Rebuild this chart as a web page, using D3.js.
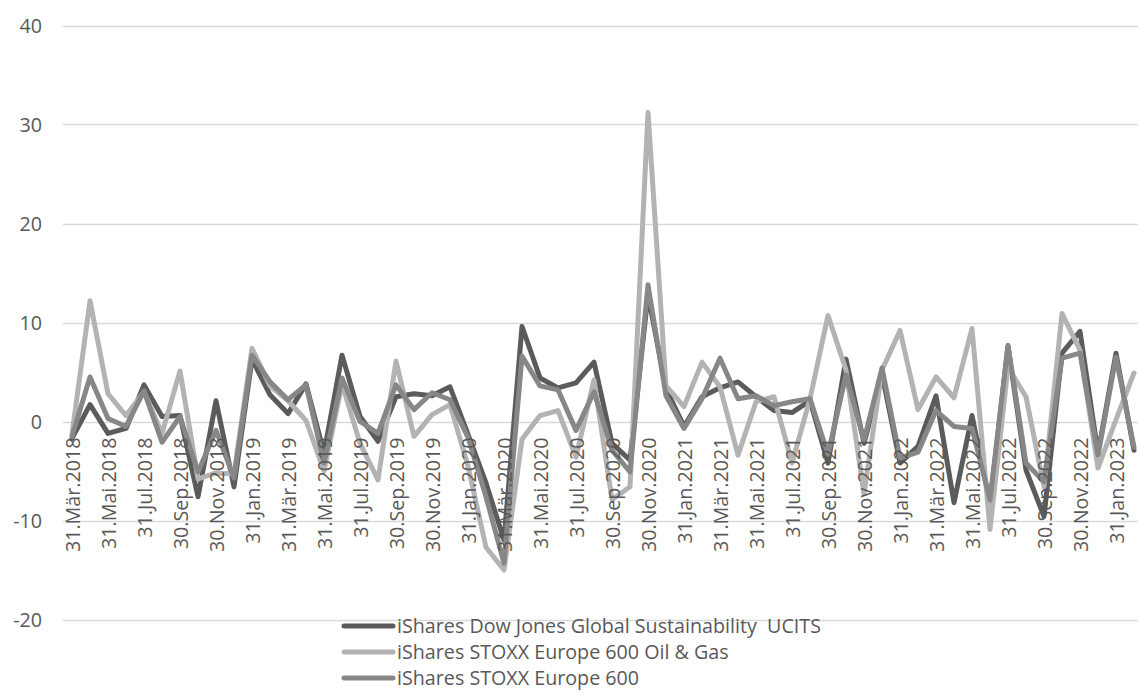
<!DOCTYPE html>
<html>
<head>
<meta charset="utf-8">
<script src="https://cdn.jsdelivr.net/npm/d3@7"></script>
<style>
  html, body { margin: 0; padding: 0; background: #ffffff; }
  svg { display: block; }
  text { font-family: "Open Sans", "Liberation Sans", Arial, sans-serif; fill: #595959; white-space: pre; }
</style>
</head>
<body>
<svg id="chart" width="1138" height="695"></svg>
<script>
// Monthly performance (%) of three iShares funds, Mar 2018 – Feb 2023
const months = [
  "31.Mär.2018","30.Apr.2018","31.Mai.2018","30.Jun.2018","31.Jul.2018","31.Aug.2018",
  "30.Sep.2018","31.Okt.2018","30.Nov.2018","31.Dez.2018",
  "31.Jan.2019","28.Feb.2019","31.Mär.2019","30.Apr.2019","31.Mai.2019","30.Jun.2019",
  "31.Jul.2019","31.Aug.2019","30.Sep.2019","31.Okt.2019","30.Nov.2019","31.Dez.2019",
  "31.Jan.2020","29.Feb.2020","31.Mär.2020","30.Apr.2020","31.Mai.2020","30.Jun.2020",
  "31.Jul.2020","31.Aug.2020","30.Sep.2020","31.Okt.2020","30.Nov.2020","31.Dez.2020",
  "31.Jan.2021","28.Feb.2021","31.Mär.2021","30.Apr.2021","31.Mai.2021","30.Jun.2021",
  "31.Jul.2021","31.Aug.2021","30.Sep.2021","31.Okt.2021","30.Nov.2021","31.Dez.2021",
  "31.Jan.2022","28.Feb.2022","31.Mär.2022","30.Apr.2022","31.Mai.2022","30.Jun.2022",
  "31.Jul.2022","31.Aug.2022","30.Sep.2022","31.Okt.2022","30.Nov.2022","31.Dez.2022",
  "31.Jan.2023","28.Feb.2023"
];

const sustainability = [
  -1.7, 1.7, -1.2, -0.7, 3.7, 0.5, 0.6, -7.6, 2.1, -6.6,
   6.3, 2.7, 0.8, 3.8, -3.2, 6.7, 0.5, -2.0, 2.5, 2.8, 2.6, 3.5,
  -1.3, -6.2, -12.0, 9.6, 4.4, 3.4, 3.9, 6.0, -2.2, -3.9, 12.8, 3.3,
  -0.5, 2.5, 3.4, 4.0, 2.5, 1.1, 0.9, 2.1, -4.2, 6.3, -2.2, 4.8,
  -4.2, -2.5, 2.6, -8.2, 0.6, -8.3, 7.6, -4.9, -9.6, 6.9, 9.1, -3.2,
   6.9, -2.9
];

const oilGas = [
  -1.3, 12.2, 2.8, 0.6, 3.0, -1.2, 5.1, -5.8, -5.2, -5.3,
   7.4, 3.6, 2.1, 0.1, -5.0, 3.8, -2.2, -5.9, 6.1, -1.5, 0.7, 1.7,
  -4.5, -12.7, -15.0, -1.8, 0.6, 1.1, -3.6, 4.2, -7.9, -6.6, 31.2, 3.6,
   1.5, 6.0, 3.5, -3.4, 2.0, 2.5, -4.2, 2.3, 10.7, 5.2, -7.3, 5.2,
   9.2, 1.2, 4.5, 2.4, 9.4, -10.9, 5.5, 2.5, -6.6, 10.9, 7.2, -4.7,
   0.2, 4.9
];

const europe600 = [
  -1.5, 4.5, 0.3, -0.5, 3.1, -2.1, 0.5, -5.1, -0.9, -5.7,
   6.7, 4.0, 2.2, 3.7, -4.2, 4.4, 0.0, -1.2, 3.7, 1.2, 2.9, 2.2,
  -1.6, -7.6, -14.3, 6.6, 3.6, 3.2, -0.9, 3.0, -2.9, -5.1, 13.8, 2.6,
  -0.7, 2.3, 6.4, 2.3, 2.6, 1.6, 2.0, 2.3, -3.3, 4.7, -1.9, 5.4,
  -3.7, -3.1, 1.1, -0.5, -0.7, -7.9, 7.7, -4.2, -6.1, 6.4, 6.9, -3.4,
   6.5, -2.6
];

const yTicks = [-20, -10, 0, 10, 20, 30, 40];

const seriesNames = [
  "iShares Dow Jones Global Sustainability  UCITS",
  "iShares STOXX Europe 600 Oil & Gas",
  "iShares STOXX Europe 600"
];
const seriesColors = ["#5b5b5b", "#b3b3b3", "#878787"];
const seriesValues = [sustainability, oilGas, europe600];

const FONT_SIZE = 19.7;

const svg = d3.select("#chart");

const plot = { left: 63, top: 25.5, bottom: 619.5 };
const step = 18;

const x = d3.scalePoint()
  .domain(months)
  .range([plot.left, plot.left + step * months.length])
  .padding(0.5);

const y = d3.scaleLinear()
  .domain([-20, 40])
  .range([plot.bottom, plot.top]);

// horizontal gridlines
svg.append("g")
  .selectAll("line")
  .data(yTicks)
  .join("line")
  .attr("x1", plot.left)
  .attr("x2", 1138)
  .attr("y1", d => Math.round(y(d)) + 0.5)
  .attr("y2", d => Math.round(y(d)) + 0.5)
  .attr("stroke", "#d9d9d9")
  .attr("stroke-width", 1.3);

// value axis labels
const yAxis = d3.axisLeft(y).tickValues(yTicks).tickSize(0).tickPadding(0)
  .tickFormat(d => String(d));
const gy = svg.append("g").attr("transform", "translate(42,0)").call(yAxis);
gy.select(".domain").remove();
gy.selectAll("text")
  .attr("font-size", FONT_SIZE)
  .attr("font-family", "Open Sans, Liberation Sans, Arial, sans-serif")
  .attr("fill", "#595959")
  .attr("dy", "0.35em");

// lines
const line = d3.line()
  .x((d, i) => x(months[i]))
  .y(d => y(d));

svg.append("g")
  .selectAll("path")
  .data(seriesValues)
  .join("path")
  .attr("d", d => line(d))
  .attr("fill", "none")
  .attr("stroke", (d, i) => seriesColors[i])
  .attr("stroke-width", 5)
  .attr("stroke-linejoin", "round")
  .attr("stroke-linecap", "round");

// category axis labels, every second month, hanging below the zero line
const xAxis = d3.axisBottom(x)
  .tickValues(months.filter((m, i) => i % 2 === 0))
  .tickSize(0)
  .tickPadding(0);
const gx = svg.append("g").attr("transform", `translate(0,${y(0)})`).call(xAxis);
gx.select(".domain").remove();
gx.selectAll("text")
  .attr("font-size", FONT_SIZE)
  .attr("font-family", "Open Sans, Liberation Sans, Arial, sans-serif")
  .attr("fill", "#595959")
  .attr("transform", "rotate(-90)")
  .attr("text-anchor", "end")
  .attr("x", -16)
  .attr("y", 1)
  .attr("dy", "0.35em");

// legend
const legend = svg.append("g")
  .selectAll("g")
  .data(seriesNames)
  .join("g")
  .attr("transform", (d, i) => `translate(344,${626 + i * 26})`);

legend.append("line")
  .attr("x1", 0).attr("x2", 49)
  .attr("stroke", (d, i) => seriesColors[i])
  .attr("stroke-width", 5)
  .attr("stroke-linecap", "round");

legend.append("text")
  .attr("x", 53)
  .attr("dy", "0.35em")
  .attr("font-size", FONT_SIZE)
  .text(d => d);
</script>
</body>
</html>
